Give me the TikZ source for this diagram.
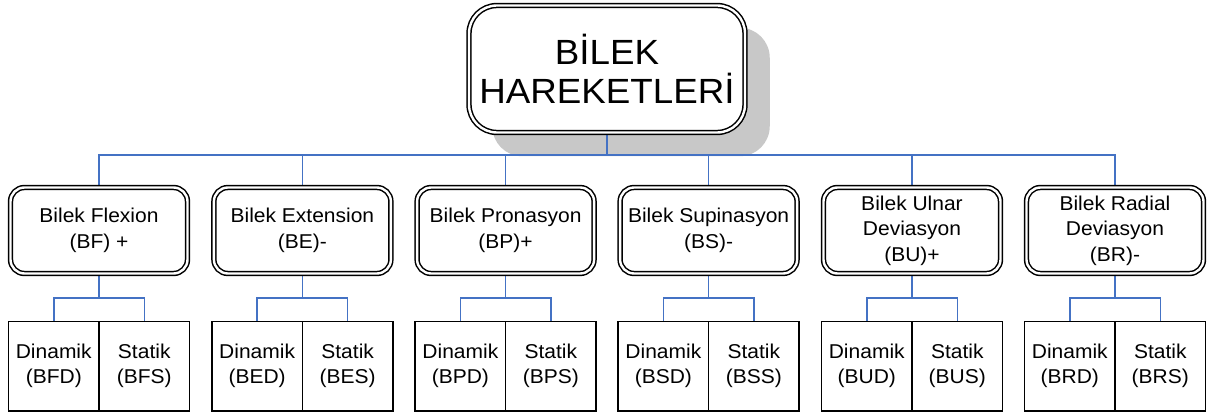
\documentclass[tikz,border=0pt]{standalone}
\usepackage{fontspec}
\setmainfont{Liberation Sans}[FakeStretch=1.05]
\usetikzlibrary{backgrounds}
\definecolor{connblue}{HTML}{4472C4}
\definecolor{shadowgray}{RGB}{200,200,200}
\begin{document}
\begin{tikzpicture}[x=1pt,y=-1pt,
  conn/.style={draw=connblue, line width=1.5pt},
  dblbox/.style={draw=black, line width=1.5pt, double=white, double distance=2.4pt, fill=white, align=center, inner sep=1pt},
  topbox/.style={dblbox, rounded corners=28pt, minimum width=276pt, minimum height=127pt, font=\fontsize{35}{39}\selectfont},
  midbox/.style={dblbox, rounded corners=14pt, minimum width=177pt, minimum height=86pt, font=\fontsize{20}{25.5}\selectfont},
  cellbox/.style={draw=black, line width=1.4pt, fill=white, align=center, minimum width=90.5pt, minimum height=89.5pt, inner sep=1pt, font=\fontsize{20}{25}\selectfont}]
\useasboundingbox (0,0) rectangle (1207,414);

\node[topbox] (top) at (607,69) {BİLEK\\HAREKETLERİ};

\node[midbox] (b1) at (99,230.5)    {Bilek Flexion\\(BF) +};
\node[midbox] (b2) at (302.4,230.5) {Bilek Extension\\(BE)-};
\node[midbox] (b3) at (505.6,230.5) {Bilek Pronasyon\\(BP)+};
\node[midbox] (b4) at (708.6,230.5) {Bilek Supinasyon\\(BS)-};
\node[midbox] (b5) at (912,230.5)   {Bilek Ulnar\\Deviasyon\\(BU)+};
\node[midbox] (b6) at (1115,230.5)  {Bilek Radial\\Deviasyon\\(BR)-};

\foreach \i/\cx/\c in {1/99/BF, 2/302.4/BE, 3/505.6/BP, 4/708.6/BS, 5/912/BU, 6/1115/BR}{
  \node[cellbox] (d\i) at (\cx-45.25,366.3) {Dinamik\\(\c D)};
  \node[cellbox] (t\i) at (\cx+45.25,366.3) {Statik\\(\c S)};
  \coordinate (s\i) at (\cx,298);
}
\coordinate (bus) at (607,155);

\begin{scope}[on background layer]
  \fill[shadowgray, rounded corners=30pt]
    ([xshift=24pt,yshift=-23pt]top.north west) rectangle ([xshift=24pt,yshift=-23pt]top.south east);
  \draw[conn] (top.south) -- (bus);
  \foreach \i in {1,...,6}{
    \draw[conn] (b\i.north) |- (bus);
    \draw[conn] (b\i.south) -- (s\i);
    \draw[conn] (d\i.north) |- (s\i);
    \draw[conn] (t\i.north) |- (s\i);
  }
\end{scope}
\end{tikzpicture}
\end{document}
